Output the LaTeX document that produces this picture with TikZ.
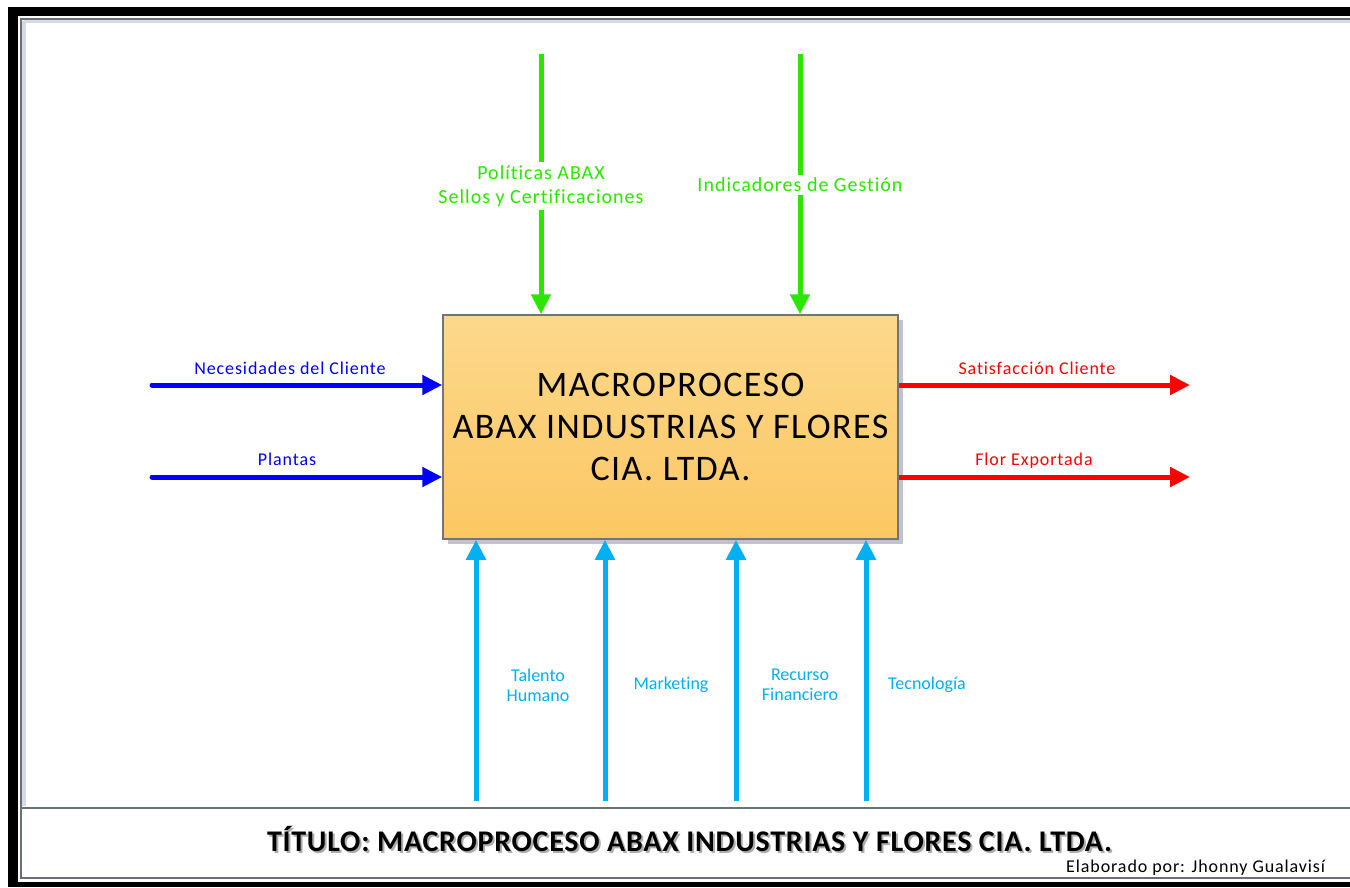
\documentclass[tikz,border=0pt]{standalone}
\usepackage{fontspec}
\setmainfont{Carlito}[Ligatures={NoCommon}]
\usetikzlibrary{arrows.meta}

\definecolor{ctrlgreen}{RGB}{44,230,0}
\definecolor{inblue}{RGB}{0,0,255}
\definecolor{outred}{RGB}{255,0,0}
\definecolor{rescyan}{RGB}{0,176,240}
\definecolor{boxtop}{RGB}{253,216,140}
\definecolor{boxbottom}{RGB}{251,199,98}
\definecolor{boxedge}{RGB}{112,116,124}
\definecolor{boxshade}{RGB}{192,195,202}
\definecolor{framegray}{RGB}{105,112,124}
\definecolor{framelight}{RGB}{214,218,226}

\tikzset{
  flowline/.style={line width=5pt, -{Triangle[length=20pt,width=19pt]}},
  ctrl/.style={flowline, draw=ctrlgreen},
  inflow/.style={flowline, draw=inblue, line cap=round},
  outflow/.style={flowline, draw=outred},
  res/.style={flowline, draw=rescyan},
  ctrllabel/.style={fill=white, inner sep=3pt, text=ctrlgreen, align=center,
    font=\fontsize{20}{24}\selectfont\addfontfeature{LetterSpace=5}},
  iolabel/.style={inner sep=0pt, anchor=base,
    font=\fontsize{18}{22}\selectfont\addfontfeature{LetterSpace=5}},
  reslabel/.style={inner sep=0pt, text=rescyan, align=center,
    font=\fontsize{18}{20}\selectfont},
  mainbox/.style={draw=boxedge, line width=1.5pt, top color=boxtop,
    bottom color=boxbottom, minimum width=455pt, minimum height=224pt,
    align=center, inner sep=0pt,
    font=\fontsize{36}{42}\selectfont\addfontfeature{LetterSpace=4}},
  titletext/.style={anchor=base, inner sep=0pt,
    font=\fontsize{30}{32}\selectfont\bfseries\addfontfeature{LetterSpace=2.5}},
}

\begin{document}
\begin{tikzpicture}[x=1pt,y=-1pt]
  \useasboundingbox (0,0) rectangle (1350,887);

  % outer black frame and inner gray rule
  \fill[black] (8,7) rectangle (1350,887);
  \fill[white] (18,16) rectangle (1350,882);
  \draw[framelight, line width=4pt] (24,21) -- (1350,21);
  \draw[framelight, line width=4pt] (24,21) -- (24,806);
  \draw[framegray, line width=2pt] (1350,18.5) -- (21,18.5) -- (21,878) -- (1350,878);
  \draw[framegray, line width=2pt] (21,807.5) -- (1350,807.5);

  % process box with drop shade
  \fill[boxshade] (448,320) rectangle (903,544);
  \node[mainbox] (box) at (670.5,427)
    {MACROPROCESO\\ABAX INDUSTRIAS Y FLORES\\CIA. LTDA.};

  % controls (top)
  \coordinate (c1) at (541,54);
  \coordinate (c2) at (800,54);
  \draw[ctrl] (c1) -- (c1 |- box.north);
  \draw[ctrl] (c2) -- (c2 |- box.north);
  \node[ctrllabel] (c1lab) at (541,186) {Políticas ABAX\\Sellos y Certificaciones};
  \node[ctrllabel] (c2lab) at (800,185) {Indicadores de Gestión};

  % inputs (left)
  \coordinate (i1) at (152,385);
  \coordinate (i2) at (152,477);
  \draw[inflow] (i1) -- (i1 -| box.west);
  \draw[inflow] (i2) -- (i2 -| box.west);
  \node[iolabel, text=inblue] (i1lab) at (290,374) {Necesidades del Cliente};
  \node[iolabel, text=inblue] (i2lab) at (287,465) {Plantas};

  % outputs (right)
  \coordinate (o1) at (1190,385);
  \coordinate (o2) at (1190,477);
  \draw[outflow] (o1 -| box.east) -- (o1);
  \draw[outflow] (o2 -| box.east) -- (o2);
  \node[iolabel, text=outred] (o1lab) at (1037,374) {Satisfacción Cliente};
  \node[iolabel, text=outred] (o2lab) at (1034,465) {Flor Exportada};

  % resources (bottom)
  \coordinate (r1) at (476,801);
  \coordinate (r2) at (605,801);
  \coordinate (r3) at (736,801);
  \coordinate (r4) at (866,801);
  \foreach \r in {r1,r2,r3,r4} \draw[res] (\r) -- (\r |- box.south);
  \node[reslabel] (r1lab) at (538,685) {Talento\\Humano};
  \node[reslabel] (r2lab) at (671,685) {Marketing};
  \node[reslabel] (r3lab) at (800,685) {Recurso\\Financiero};
  \node[reslabel] (r4lab) at (927,685) {Tecnología};

  % title block
  \node[titletext, text=black!40, opacity=0.8] (titleshade) at (691.5,853)
    {TÍTULO: MACROPROCESO ABAX INDUSTRIAS Y FLORES CIA. LTDA.};
  \node[titletext] (title) at (689.5,851)
    {TÍTULO: MACROPROCESO ABAX INDUSTRIAS Y FLORES CIA. LTDA.};
  \node[anchor=base west, inner sep=0pt,
    font=\fontsize{18}{20}\selectfont\addfontfeature{LetterSpace=5}] (author) at (1066,872)
    {Elaborado por: Jhonny Gualavisí};
\end{tikzpicture}
\end{document}
